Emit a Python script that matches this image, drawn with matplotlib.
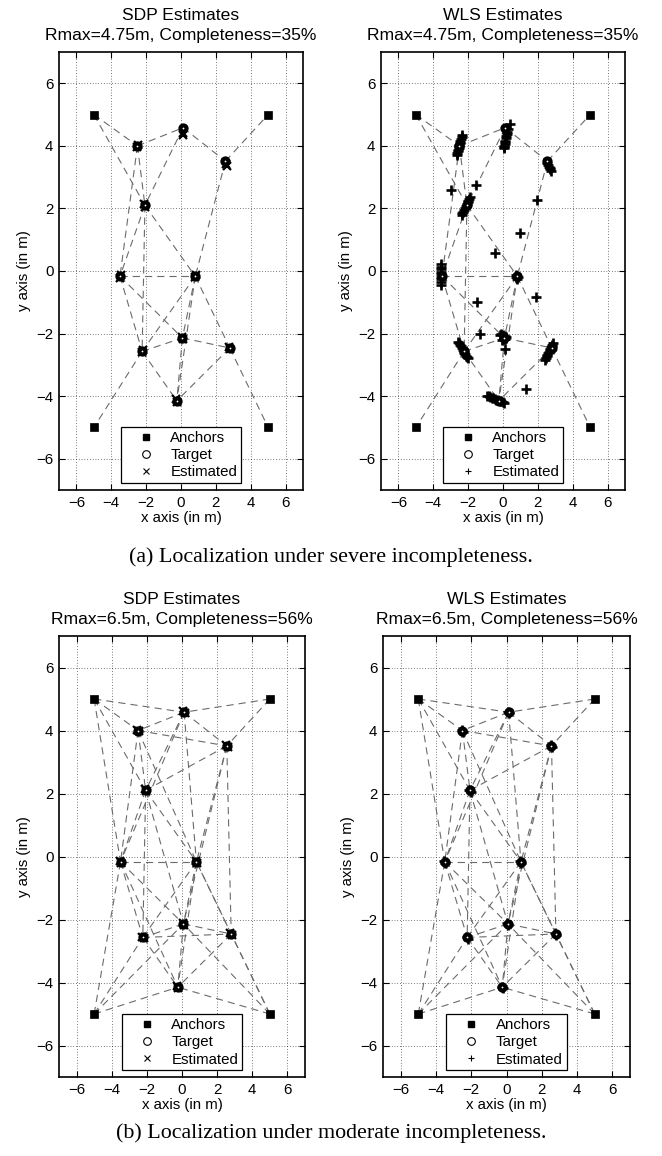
import matplotlib
matplotlib.use("Agg")
import matplotlib.pyplot as plt
from matplotlib.lines import Line2D

# === DATA ===

# anchors: top-left, top-right, bottom-left, bottom-right
anchor_x = [-5, 5, -5, 5]
anchor_y = [5, 5, -5, -5]

# target nodes T1..T10
target_x = [0.12, -2.5, 2.55, -2.07, -3.5, 0.82, 0.08, -2.23, 2.8, -0.24]
target_y = [4.58, 4.0, 3.51, 2.1, -0.17, -0.17, -2.14, -2.57, -2.46, -4.15]

# measured links, node index: 0-3 anchors, 4-13 targets
edges_severe = [(0, 5), (0, 7), (5, 4), (4, 6), (6, 1), (4, 7), (5, 7), (5, 8),
                (7, 8), (7, 9), (6, 9), (8, 9), (7, 11), (8, 11), (8, 10),
                (9, 11), (9, 10), (9, 13), (9, 12), (11, 10), (10, 12),
                (11, 13), (12, 13), (10, 13), (11, 2), (12, 3)]
edges_moderate = [(0, 4), (0, 5), (0, 7), (0, 8), (1, 4), (1, 6),
                  (2, 8), (2, 11), (2, 13), (2, 10), (3, 12), (3, 13), (3, 10), (3, 9),
                  (4, 5), (4, 6), (4, 7), (4, 8), (4, 9),
                  (5, 6), (5, 7), (5, 8), (5, 9),
                  (6, 7), (6, 9), (6, 10), (6, 12),
                  (7, 8), (7, 9), (7, 10), (7, 11),
                  (8, 9), (8, 10), (8, 11), (8, 13),
                  (9, 10), (9, 11), (9, 12), (9, 13),
                  (10, 11), (10, 12), (10, 13), (11, 12), (11, 13), (12, 13)]

# SDP estimates, severe case (sit on / next to the targets)
sdp_a_x = [0.13, 0.1, -2.53, -2.46, 2.6, 2.64, -2.04, -2.1, -3.52, -3.46,
           0.8, 0.86, 0.06, 0.11, -2.26, -2.2, 2.78, 2.84, -0.3, -0.22]
sdp_a_y = [4.4, 4.36, 3.96, 4.03, 3.42, 3.37, 2.06, 2.14, -0.21, -0.14,
           -0.2, -0.14, -2.11, -2.18, -2.6, -2.54, -2.42, -2.5, -4.1, -4.19]

# WLS estimates, severe case (smeared clusters + outliers)
wls_a_x = [0.38, 0.3, 0.24, 0.21, 0.18, 0.16, 0.13, 0.11, 0.09, 0.07, 0.05, 0.03,
           -2.66, -2.63, -2.6, -2.58, -2.55, -2.52, -2.5, -2.47, -2.44, -2.41, -2.38, -2.35,
           2.55, 2.59, 2.63, 2.67, 2.71, 2.75,
           -2.38, -2.33, -2.28, -2.23, -2.18, -2.13, -2.08, -2.03, -1.98, -1.93, -1.88,
           -3.55, -3.56, -3.54, -3.55, -3.53, -3.56, -3.54, -3.55, -3.53,
           0.76, 0.84, 0.8, 0.72,
           -0.18, -0.1, 0.0, 0.1, 0.18, 0.05, -0.05, 0.12,
           -2.56, -2.51, -2.46, -2.41, -2.36, -2.31, -2.26, -2.21, -2.16, -2.11, -2.06, -2.02,
           2.87, 2.83, 2.79, 2.75, 2.71, 2.67, 2.63, 2.59, 2.55, 2.5, 2.46, 2.42,
           -0.92, -0.83, -0.74, -0.65, -0.56, -0.47, -0.38, -0.29, -0.2, -0.11, -0.02, 0.05,
           -3.0, -1.55, 1.95, 0.95, -0.44, -1.48, 1.92, -1.3, 0.1, 1.32]
wls_a_y = [4.7, 4.55, 4.45, 4.38, 4.3, 4.24, 4.17, 4.11, 4.05, 4.0, 3.96, 3.92,
           3.7, 3.76, 3.82, 3.87, 3.93, 3.98, 4.04, 4.1, 4.16, 4.22, 4.28, 4.34,
           3.44, 3.39, 3.34, 3.29, 3.25, 3.2,
           1.78, 1.84, 1.9, 1.95, 2.01, 2.07, 2.13, 2.19, 2.25, 2.3, 2.36,
           0.22, 0.13, 0.05, -0.03, -0.11, -0.19, -0.27, -0.36, -0.45,
           -0.13, -0.2, -0.25, -0.18,
           -2.06, -2.02, -2.05, -2.08, -2.12, -2.18, -2.2, -2.16,
           -2.26, -2.31, -2.36, -2.41, -2.46, -2.51, -2.56, -2.61, -2.66, -2.71, -2.75, -2.79,
           -2.3, -2.35, -2.4, -2.44, -2.49, -2.54, -2.58, -2.63, -2.68, -2.73, -2.78, -2.83,
           -3.99, -4.01, -4.03, -4.05, -4.07, -4.09, -4.11, -4.13, -4.15, -4.17, -4.19, -4.21,
           2.58, 2.76, 2.28, 1.22, 0.57, -0.99, -0.84, -2.0, -2.5, -3.77]

# moderate case: both methods land on the targets
sdp_b_x = [0.08, 0.16, -2.54, -2.46, 2.51, 2.59, -2.11, -2.03, -3.54, -3.46,
           0.78, 0.86, 0.04, 0.12, -2.27, -2.19, 2.76, 2.84, -0.28, -0.2]
sdp_b_y = [4.61, 4.55, 4.03, 3.97, 3.54, 3.48, 2.13, 2.07, -0.14, -0.2,
           -0.14, -0.2, -2.11, -2.17, -2.54, -2.6, -2.43, -2.49, -4.12, -4.18]
wls_b_x = [0.15, 0.09, -2.47, -2.53, 2.58, 2.52, -2.04, -2.1, -3.47, -3.53,
           0.85, 0.79, 0.11, 0.05, -2.2, -2.26, 2.83, 2.77, -0.21, -0.27]
wls_b_y = [4.54, 4.6, 3.96, 4.02, 3.47, 3.53, 2.06, 2.12, -0.21, -0.15,
           -0.21, -0.15, -2.18, -2.12, -2.61, -2.55, -2.5, -2.44, -4.19, -4.13]

panels = [
    ("SDP Estimates", "4.75", "35", edges_severe, sdp_a_x, sdp_a_y, "x", [59, 52, 303, 490]),
    ("WLS Estimates", "4.75", "35", edges_severe, wls_a_x, wls_a_y, "+", [381, 52, 625, 490]),
    ("SDP Estimates", "6.5", "56", edges_moderate, sdp_b_x, sdp_b_y, "x", [59, 636, 305, 1077]),
    ("WLS Estimates", "6.5", "56", edges_moderate, wls_b_x, wls_b_y, "+", [383, 636, 630, 1077]),
]

captions = ["(a) Localization under severe incompleteness.",
            "(b) Localization under moderate incompleteness."]

# === PLOTTING ===

W, H = 662, 1156
FS = 10.8
plt.rcParams["font.family"] = "Liberation Sans"

fig = plt.figure(figsize=(W / 100, H / 100), dpi=100)

nodes_x = anchor_x + target_x
nodes_y = anchor_y + target_y
tick_vals = list(range(-6, 7, 2))
tick_txt = [str(v).replace("-", "\u2212") for v in tick_vals]


def draw_panel(title, rmax, comp, edges, est_x, est_y, est_marker, box):
    l, t, r, b = box
    ax = fig.add_axes([l / W, 1 - b / H, (r - l) / W, (b - t) / H])

    for i, j in edges:
        ax.plot([nodes_x[i], nodes_x[j]], [nodes_y[i], nodes_y[j]],
                color="0.42", lw=0.8, ls=(0, (6.5, 4.5)), zorder=2)

    ax.plot(anchor_x, anchor_y, "s", color="k", ms=6.3, mew=0.5, zorder=4)
    if est_marker == "x":
        ax.plot(est_x, est_y, "x", color="k", ms=5.5, mew=1.6, zorder=3)
    else:
        ax.plot(est_x, est_y, "+", color="k", ms=6.8, mew=1.9, zorder=3)
    # thick ring with a small white centre, as the overlapping estimates leave it
    ax.plot(target_x, target_y, "o", mfc="white", mec="k", ms=4.4, mew=3.0, zorder=5)

    ax.set_xlim(-7, 7)
    ax.set_ylim(-7, 7)
    ax.set_xticks(tick_vals)
    ax.set_yticks(tick_vals)
    ax.set_xticklabels(tick_txt)
    ax.set_yticklabels(tick_txt)
    ax.tick_params(direction="in", length=4, width=0.8, top=True, right=True,
                   labelsize=FS, pad=4)
    ax.grid(True, color="k", lw=0.5, ls=(0, (1, 3)))
    for sp in ax.spines.values():
        sp.set_linewidth(1.2)

    ax.set_title(f"{title}\nRmax={rmax}m, Completeness={comp}%",
                 fontsize=12.6, linespacing=1.45, pad=8.5)
    ax.set_xlabel("x axis (in m)", fontsize=FS, labelpad=1)
    ax.set_ylabel("y axis (in m)", fontsize=FS, labelpad=4)

    handles = [
        Line2D([], [], ls="none", marker="s", color="k", ms=5),
        Line2D([], [], ls="none", marker="o", mfc="white", mec="k", ms=5.5, mew=0.8),
        Line2D([], [], ls="none", marker=est_marker, color="k", ms=4.5, mew=0.8),
    ]
    leg = ax.legend(handles, ["Anchors", "Target", "Estimated"], loc="lower center",
                    fontsize=FS, fancybox=False, framealpha=1, edgecolor="k",
                    borderpad=0.25, handlelength=2.8, handletextpad=0.25,
                    labelspacing=0.22, borderaxespad=0.45)
    leg.get_frame().set_linewidth(0.9)
    leg.set_zorder(10)


for p in panels:
    draw_panel(*p)

fig.text(0.5, 1 - 557 / H, captions[0], ha="center", va="center",
         fontsize=15.8, family="Liberation Serif")
fig.text(0.5, 1 - 1133 / H, captions[1], ha="center", va="center",
         fontsize=15.8, family="Liberation Serif")

fig.savefig("out.png", dpi=100)
